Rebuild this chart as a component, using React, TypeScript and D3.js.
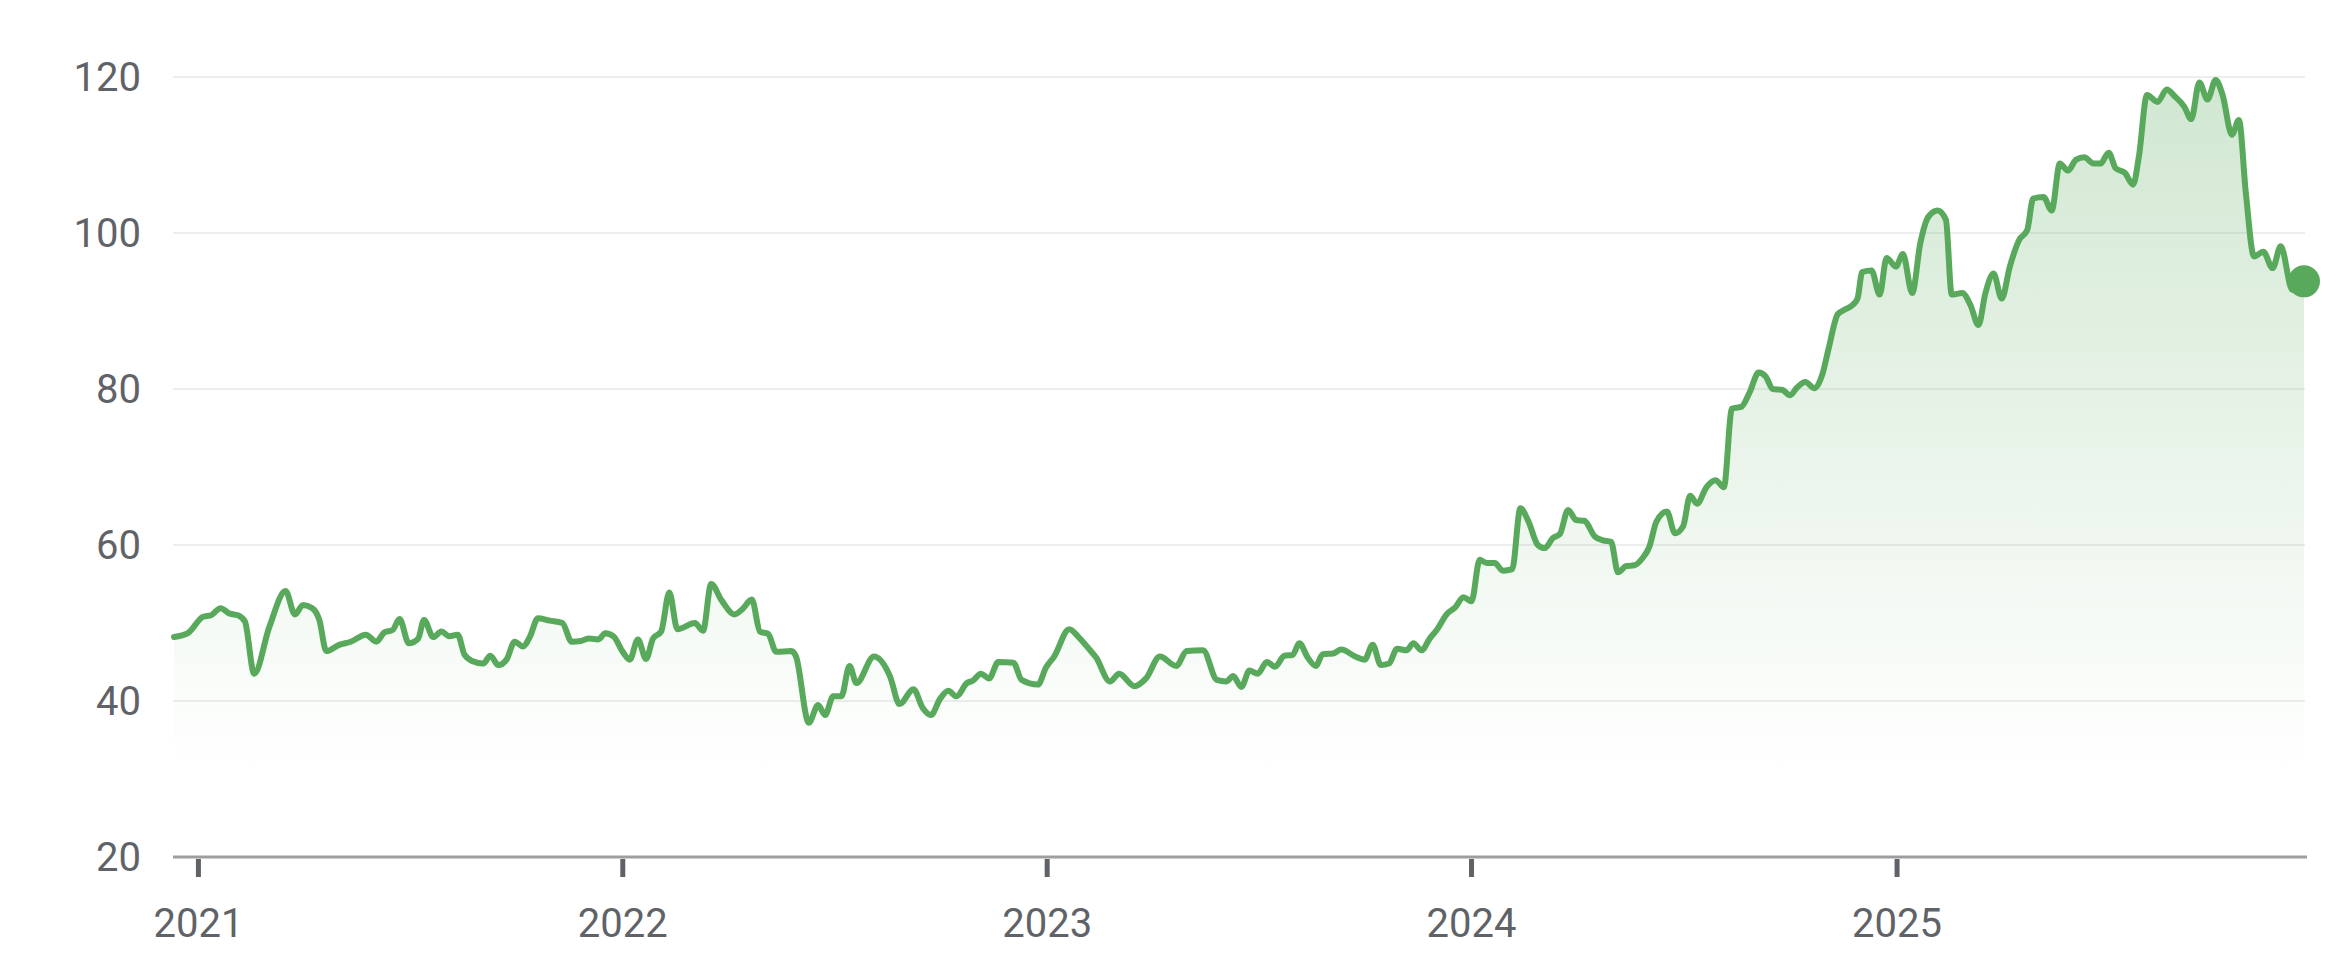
import React from "react";
import * as d3 from "d3";

const dates: string[] = [
  "2020-12-11","2020-12-23","2021-01-05","2021-01-12","2021-01-20","2021-01-28","2021-02-04","2021-02-10","2021-02-18","2021-03-03",
  "2021-03-17","2021-03-25","2021-04-01","2021-04-09","2021-04-15","2021-04-21","2021-05-02","2021-05-12","2021-05-25","2021-06-03",
  "2021-06-10","2021-06-17","2021-06-23","2021-07-01","2021-07-09","2021-07-14","2021-07-22","2021-07-29","2021-08-05","2021-08-12",
  "2021-08-18","2021-08-25","2021-09-03","2021-09-09","2021-09-16","2021-09-23","2021-09-30","2021-10-07","2021-10-13","2021-10-20",
  "2021-10-30","2021-11-10","2021-11-18","2021-11-26","2021-12-03","2021-12-11","2021-12-17","2021-12-24","2022-01-01","2022-01-07",
  "2022-01-14","2022-01-21","2022-01-27","2022-02-03","2022-02-10","2022-02-17","2022-03-04","2022-03-11","2022-03-18","2022-03-27",
  "2022-04-07","2022-04-14","2022-04-22","2022-04-29","2022-05-06","2022-05-13","2022-05-26","2022-05-30","2022-06-10","2022-06-18",
  "2022-06-24","2022-07-01","2022-07-08","2022-07-15","2022-07-21","2022-08-05","2022-08-19","2022-08-27","2022-09-08","2022-09-16",
  "2022-09-23","2022-10-01","2022-10-08","2022-10-15","2022-10-24","2022-10-29","2022-11-05","2022-11-12","2022-11-20","2022-12-03",
  "2022-12-10","2022-12-24","2022-12-31","2023-01-07","2023-01-20","2023-01-28","2023-02-07","2023-02-12","2023-02-24","2023-03-04",
  "2023-03-17","2023-03-27","2023-04-08","2023-04-22","2023-05-01","2023-05-15","2023-05-27","2023-06-04","2023-06-10","2023-06-17",
  "2023-06-24","2023-07-01","2023-07-09","2023-07-16","2023-07-24","2023-07-31","2023-08-06","2023-08-13","2023-08-20","2023-08-26",
  "2023-09-04","2023-09-11","2023-09-23","2023-10-01","2023-10-08","2023-10-15","2023-10-22","2023-10-29","2023-11-06","2023-11-12",
  "2023-11-19","2023-11-26","2023-12-02","2023-12-11","2023-12-18","2023-12-25","2024-01-01","2024-01-08","2024-01-14","2024-01-21",
  "2024-01-28","2024-02-05","2024-02-12","2024-02-19","2024-02-27","2024-03-04","2024-03-11","2024-03-17","2024-03-24","2024-03-31",
  "2024-04-07","2024-04-16","2024-04-23","2024-04-30","2024-05-06","2024-05-13","2024-05-20","2024-05-27","2024-06-02","2024-06-08",
  "2024-06-17","2024-06-24","2024-07-01","2024-07-07","2024-07-13","2024-07-21","2024-07-29","2024-08-05","2024-08-12","2024-08-20",
  "2024-08-27","2024-09-04","2024-09-10","2024-09-16","2024-09-24","2024-10-01","2024-10-07","2024-10-14","2024-10-22","2024-10-29",
  "2024-11-03","2024-11-11","2024-11-16","2024-11-24","2024-11-28","2024-12-02","2024-12-10","2024-12-17","2024-12-23","2024-12-31",
  "2025-01-06","2025-01-14","2025-01-21","2025-01-28","2025-02-05","2025-02-12","2025-02-17","2025-02-26","2025-03-05","2025-03-12",
  "2025-03-18","2025-03-25","2025-04-01","2025-04-08","2025-04-16","2025-04-23","2025-04-28","2025-05-07","2025-05-14","2025-05-21",
  "2025-05-28","2025-06-04","2025-06-11","2025-06-19","2025-06-25","2025-07-02","2025-07-08","2025-07-16","2025-07-23","2025-07-28",
  "2025-08-04","2025-08-13","2025-08-21","2025-08-28","2025-09-05","2025-09-11","2025-09-18","2025-09-25","2025-10-02","2025-10-08",
  "2025-10-16","2025-10-22","2025-10-28","2025-11-04","2025-11-12","2025-11-20","2025-11-27","2025-12-07","2025-12-17"
];

const prices: number[] = [
  48.2,48.7,50.8,51.0,51.9,51.2,51.0,50.2,43.5,49.5,
  54.1,51.1,52.3,51.9,50.4,46.4,47.2,47.6,48.5,47.6,
  48.8,49.1,50.5,47.4,48.0,50.4,48.2,48.9,48.3,48.5,
  45.9,45.1,44.8,45.8,44.6,45.3,47.6,47.0,48.2,50.6,
  50.3,50.0,47.6,47.7,48.0,47.9,48.7,48.3,46.3,45.3,
  47.9,45.4,48.0,48.9,53.9,49.2,50.0,49.0,55.0,52.9,
  51.1,51.8,53.0,48.9,48.6,46.3,46.4,45.7,37.2,39.5,
  38.2,40.6,40.6,44.5,42.3,45.7,43.1,39.6,41.5,39.1,
  38.2,40.3,41.3,40.6,42.3,42.6,43.5,42.9,45.0,44.9,
  42.7,42.1,44.3,45.7,49.2,48.2,46.5,45.6,42.5,43.5,
  41.9,42.9,45.7,44.5,46.4,46.5,42.7,42.5,43.2,41.8,
  43.9,43.5,45.0,44.4,45.8,45.9,47.4,45.6,44.5,46.0,
  46.1,46.6,45.7,45.3,47.2,44.6,44.8,46.7,46.5,47.4,
  46.5,48.0,49.1,51.2,52.0,53.3,52.8,58.1,57.7,57.7,
  56.7,56.9,64.7,63.0,60.0,59.6,60.9,61.4,64.5,63.2,
  63.1,61.1,60.6,60.4,56.5,57.3,57.4,58.3,59.8,63.0,
  64.3,61.5,62.4,66.3,65.3,67.4,68.3,67.4,77.5,77.7,
  79.5,82.1,81.6,80.0,79.9,79.2,80.2,80.9,80.1,82.0,
  85.1,89.6,90.1,90.8,91.6,95.0,95.2,92.1,96.8,95.7,
  97.3,92.3,98.7,102.1,102.9,101.7,92.1,92.3,90.8,88.2,
  92.3,94.8,91.6,95.7,99.1,100.4,104.4,104.6,102.9,108.9,
  108.0,109.4,109.7,108.9,108.9,110.3,108.3,107.7,106.2,109.8,
  117.7,116.8,118.4,117.5,116.2,114.6,119.3,117.1,119.6,117.7,
  112.6,114.5,105.1,97.0,97.6,95.5,98.3,92.7,93.8
];

const yTicks: number[] = [20, 40, 60, 80, 100, 120];
const xTickYears: number[] = [2021, 2022, 2023, 2024, 2025];

const W = 2344;
const H = 968;
const LEFT = 173;
const RIGHT = 2305;
const TOP = 77;
const BOTTOM = 857;
const GREEN = "#58a95b";
const TEXT = "#5f6368";
const FONT = "Roboto, 'Noto Sans', sans-serif";

export default function App() {
  const parse = d3.timeParse("%Y-%m-%d");
  const data = dates.map((d, i) => ({ date: parse(d) as Date, value: prices[i] }));

  const x = d3
    .scaleTime()
    .domain(d3.extent(data, (d) => d.date) as [Date, Date])
    .range([LEFT + 1, RIGHT - 1]);
  const y = d3.scaleLinear().domain([20, 120]).range([BOTTOM, TOP]);

  const line = d3
    .line<{ date: Date; value: number }>()
    .x((d) => x(d.date))
    .y((d) => y(d.value))
    .curve(d3.curveMonotoneX);
  const area = d3
    .area<{ date: Date; value: number }>()
    .x((d) => x(d.date))
    .y0(y(20))
    .y1((d) => y(d.value))
    .curve(d3.curveMonotoneX);

  const last = data[data.length - 1];

  return (
    <svg
      width={W}
      height={H}
      style={{ position: "absolute", left: 0, top: 0, display: "block", background: "#fff" }}
    >
      <defs>
        <linearGradient id="areaFill" gradientUnits="userSpaceOnUse" x1="0" y1={TOP} x2="0" y2={y(31)}>
          <stop offset="0%" stopColor={GREEN} stopOpacity={0.28} />
          <stop offset="100%" stopColor={GREEN} stopOpacity={0} />
        </linearGradient>
      </defs>

      {yTicks
        .filter((t) => t !== 20)
        .map((t) => (
          <line key={"g" + t} x1={LEFT} x2={RIGHT} y1={y(t)} y2={y(t)} stroke="#eeeeee" strokeWidth={2} />
        ))}

      {yTicks.map((t) => (
        <text
          key={"yl" + t}
          x={141}
          y={y(t)}
          textAnchor="end"
          dominantBaseline="central"
          fontFamily={FONT}
          fontSize={40}
          fill={TEXT}
        >
          {t}
        </text>
      ))}

      <path d={area(data) || ""} fill="url(#areaFill)" stroke="none" />

      <line x1={LEFT} x2={RIGHT + 2} y1={y(20)} y2={y(20)} stroke="#9e9e9e" strokeWidth={3} />

      {xTickYears.map((yr) => {
        const xp = x(new Date(yr, 0, 1));
        return (
          <g key={"xt" + yr}>
            <line x1={xp} x2={xp} y1={y(20) + 2} y2={y(20) + 20} stroke={TEXT} strokeWidth={5} />
            <text x={xp} y={937} textAnchor="middle" fontFamily={FONT} fontSize={40} fill={TEXT}>
              {yr}
            </text>
          </g>
        );
      })}

      <path
        d={line(data) || ""}
        fill="none"
        stroke={GREEN}
        strokeWidth={6}
        strokeLinejoin="round"
        strokeLinecap="round"
      />
      <circle cx={x(last.date)} cy={y(last.value)} r={16} fill={GREEN} />
    </svg>
  );
}
